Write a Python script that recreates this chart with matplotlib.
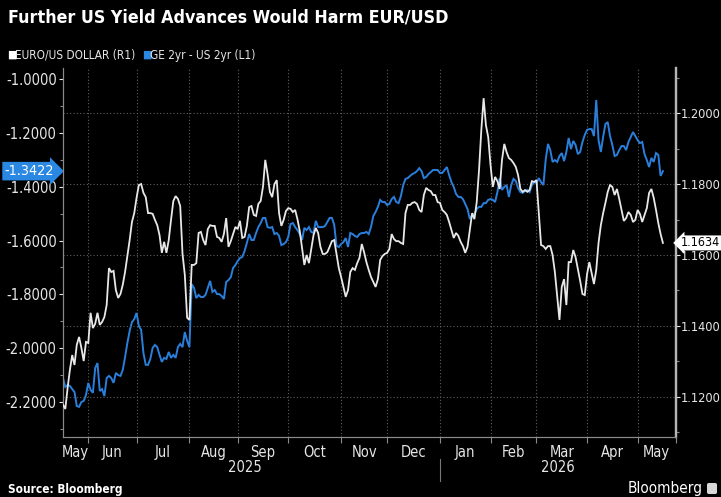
import numpy as np
import pandas as pd
import matplotlib
matplotlib.use("Agg")
import matplotlib.pyplot as plt
from matplotlib import font_manager
import matplotlib.transforms as mtransforms
from matplotlib.patches import FancyBboxPatch

# ---------------- data ----------------
start_date = "2025-05-16"   # first business day shown

eurusd = [
    1.1178, 1.1166, 1.1225, 1.1276, 1.1318, 1.1290, 1.1347, 1.1369, 1.1338, 1.1301,
    1.1355, 1.1352, 1.1437, 1.1394, 1.1406, 1.1437, 1.1403, 1.1411, 1.1425, 1.1459,
    1.1563, 1.1552, 1.1555, 1.1501, 1.1479, 1.1490, 1.1516, 1.1552, 1.1597, 1.1642,
    1.1693, 1.1718, 1.1761, 1.1797, 1.1800, 1.1775, 1.1763, 1.1718, 1.1718, 1.1716,
    1.1699, 1.1684, 1.1656, 1.1606, 1.1637, 1.1606, 1.1642, 1.1699, 1.1752, 1.1766,
    1.1758, 1.1738, 1.1603, 1.1544, 1.1423, 1.1417, 1.1572, 1.1572, 1.1577, 1.1662,
    1.1665, 1.1642, 1.1628, 1.1673, 1.1684, 1.1682, 1.1682, 1.1651, 1.1648, 1.1637,
    1.1659, 1.1704, 1.1623, 1.1639, 1.1659, 1.1679, 1.1673, 1.1696, 1.1648, 1.1651,
    1.1682, 1.1735, 1.1738, 1.1713, 1.1710, 1.1744, 1.1752, 1.1792, 1.1868, 1.1828,
    1.1778, 1.1763, 1.1800, 1.1811, 1.1718, 1.1682, 1.1699, 1.1724, 1.1732, 1.1730,
    1.1721, 1.1727, 1.1701, 1.1668, 1.1620, 1.1572, 1.1600, 1.1577, 1.1617, 1.1656,
    1.1676, 1.1662, 1.1623, 1.1603, 1.1603, 1.1608, 1.1623, 1.1639, 1.1642, 1.1603,
    1.1563, 1.1538, 1.1510, 1.1482, 1.1501, 1.1552, 1.1563, 1.1558, 1.1577, 1.1592,
    1.1631, 1.1608, 1.1580, 1.1558, 1.1538, 1.1524, 1.1510, 1.1532, 1.1586, 1.1597,
    1.1603, 1.1606, 1.1617, 1.1659, 1.1645, 1.1639, 1.1639, 1.1634, 1.1631, 1.1718,
    1.1741, 1.1741, 1.1747, 1.1749, 1.1744, 1.1727, 1.1721, 1.1769, 1.1789, 1.1783,
    1.1780, 1.1769, 1.1769, 1.1749, 1.1747, 1.1727, 1.1721, 1.1713, 1.1693, 1.1670,
    1.1648, 1.1662, 1.1654, 1.1637, 1.1625, 1.1606, 1.1623, 1.1670, 1.1718, 1.1701,
    1.1749, 1.1839, 1.1952, 1.2042, 1.1966, 1.1932, 1.1854, 1.1792, 1.1820, 1.1808,
    1.1786, 1.1868, 1.1913, 1.1890, 1.1873, 1.1868, 1.1859, 1.1848, 1.1825, 1.1786,
    1.1778, 1.1783, 1.1778, 1.1783, 1.1808, 1.1806, 1.1811, 1.1718, 1.1628, 1.1625,
    1.1617, 1.1625, 1.1625, 1.1600, 1.1552, 1.1484, 1.1417, 1.1510, 1.1532, 1.1459,
    1.1580, 1.1580, 1.1614, 1.1594, 1.1561, 1.1527, 1.1490, 1.1487, 1.1546, 1.1580,
    1.1549, 1.1518, 1.1558, 1.1634, 1.1684, 1.1718, 1.1747, 1.1778, 1.1797, 1.1792,
    1.1769, 1.1786, 1.1758, 1.1727, 1.1696, 1.1704, 1.1721, 1.1713, 1.1693, 1.1699,
    1.1727, 1.1716, 1.1693, 1.1713, 1.1732, 1.1775, 1.1786, 1.1761, 1.1727, 1.1690,
    1.1659, 1.1634,
]

spread_2y = [
    -2.111, -2.144, -2.137, -2.140, -2.152, -2.163, -2.215, -2.218, -2.200, -2.196,
    -2.174, -2.129, -2.155, -2.166, -2.074, -2.055, -2.159, -2.152, -2.178, -2.111,
    -2.103, -2.111, -2.129, -2.092, -2.100, -2.103, -2.081, -2.033, -1.981, -1.936,
    -1.903, -1.892, -1.869, -1.918, -1.932, -2.018, -2.062, -2.062, -2.040, -1.999,
    -1.988, -1.996, -2.025, -2.051, -2.036, -2.040, -2.014, -2.036, -2.025, -2.036,
    -1.996, -1.984, -1.996, -1.940, -1.973, -1.996, -1.762, -1.776, -1.814, -1.802,
    -1.810, -1.810, -1.802, -1.776, -1.750, -1.791, -1.784, -1.799, -1.799, -1.806,
    -1.817, -1.754, -1.747, -1.736, -1.702, -1.691, -1.676, -1.665, -1.661, -1.639,
    -1.609, -1.576, -1.598, -1.598, -1.572, -1.550, -1.535, -1.516, -1.516, -1.550,
    -1.553, -1.550, -1.576, -1.572, -1.583, -1.617, -1.613, -1.606, -1.587, -1.539,
    -1.535, -1.550, -1.561, -1.576, -1.598, -1.553, -1.561, -1.550, -1.568, -1.572,
    -1.527, -1.550, -1.550, -1.550, -1.546, -1.531, -1.516, -1.516, -1.542, -1.620,
    -1.624, -1.613, -1.606, -1.591, -1.624, -1.572, -1.576, -1.583, -1.587, -1.576,
    -1.572, -1.572, -1.568, -1.576, -1.550, -1.509, -1.494, -1.475, -1.449, -1.457,
    -1.457, -1.468, -1.464, -1.446, -1.438, -1.457, -1.461, -1.435, -1.394, -1.371,
    -1.368, -1.360, -1.353, -1.349, -1.342, -1.331, -1.342, -1.368, -1.364, -1.353,
    -1.346, -1.338, -1.338, -1.338, -1.349, -1.349, -1.338, -1.327, -1.357, -1.383,
    -1.401, -1.427, -1.438, -1.438, -1.446, -1.464, -1.483, -1.520, -1.505, -1.501,
    -1.483, -1.475, -1.475, -1.461, -1.461, -1.449, -1.446, -1.449, -1.457, -1.420,
    -1.368, -1.412, -1.401, -1.394, -1.438, -1.394, -1.371, -1.379, -1.405, -1.420,
    -1.423, -1.416, -1.412, -1.420, -1.394, -1.383, -1.386, -1.368, -1.383, -1.394,
    -1.301, -1.241, -1.264, -1.308, -1.301, -1.308, -1.286, -1.275, -1.305, -1.271,
    -1.219, -1.260, -1.230, -1.245, -1.279, -1.271, -1.234, -1.208, -1.189, -1.186,
    -1.186, -1.212, -1.078, -1.227, -1.271, -1.215, -1.167, -1.160, -1.212, -1.245,
    -1.286, -1.282, -1.264, -1.249, -1.249, -1.264, -1.234, -1.215, -1.197, -1.212,
    -1.227, -1.238, -1.234, -1.279, -1.301, -1.327, -1.293, -1.308, -1.275, -1.282,
    -1.360, -1.3422,
]

month_labels = ["May", "Jun", "Jul", "Aug", "Sep", "Oct", "Nov", "Dec",
                "Jan", "Feb", "Mar", "Apr", "May"]
year_labels = ["2025", "2026"]
left_ticks = [-1.0, -1.2, -1.4, -1.6, -1.8, -2.0, -2.2]
right_ticks = [1.12, 1.14, 1.16, 1.18, 1.20]
legend_labels = ["EURO/US DOLLAR (R1)", "GE 2yr - US 2yr (L1)"]
title = "Further US Yield Advances Would Harm EUR/USD"

# ---------------- fonts ----------------
plt.rcParams["axes.unicode_minus"] = False
ttf = font_manager.fontManager.ttflist
names = {f.name for f in ttf}
if "Liberation Sans Narrow" in names:
    FAM, STRETCH = "Liberation Sans Narrow", "normal"
elif any(f.name == "DejaVu Sans" and str(f.stretch) == "condensed" for f in ttf):
    FAM, STRETCH = "DejaVu Sans", "condensed"
else:
    FAM, STRETCH = "Liberation Sans", "normal"
plt.rcParams["font.family"] = [FAM, "DejaVu Sans"]
plt.rcParams["font.stretch"] = STRETCH

# ---------------- colours ----------------
BG = "black"
WHITE_LINE = "#e8e8e8"
BLUE_LINE = "#2a7fdc"
BLUE_BOX = "#2a88e3"
GRID = "#5e5e5e"
SPINE = "#8a8a8a"
TXT = "#e6e6e6"

# ---------------- figure ----------------
W, H = 721, 497
fig = plt.figure(figsize=(W / 100, H / 100), dpi=100, facecolor=BG)
ax_l = fig.add_axes([63 / W, 1 - 437 / H, (676 - 63) / W, (437 - 68) / H])
ax_l.set_facecolor(BG)
ax_r = ax_l.twinx()

dates = pd.bdate_range(start_date, periods=len(eurusd))
x = np.arange(len(dates))
x_end = len(dates) - 1 + 5.7

ax_l.plot(x, spread_2y, color=BLUE_LINE, lw=1.4, solid_joinstyle="miter", zorder=3)
ax_r.plot(x, eurusd, color=WHITE_LINE, lw=1.3, solid_joinstyle="miter", zorder=3)

ax_l.set_xlim(0, x_end)
ax_l.set_ylim(-2.330, -0.959)
ax_r.set_ylim(1.1087, 1.2127)

# month boundaries
month_starts = [i for i in range(1, len(dates)) if dates[i].month != dates[i - 1].month]
bounds = [0] + month_starts + [x_end]
centers = [(a + b) / 2 for a, b in zip(bounds[:-1], bounds[1:])]
year_start = [i for i in range(1, len(dates)) if dates[i].year != dates[i - 1].year][0]

# x axis
ax_l.set_xticks(month_starts + [x_end])
ax_l.set_xticklabels([])
ax_l.set_xticks(centers, minor=True)
ax_l.set_xticklabels(month_labels, minor=True)
ax_l.tick_params(axis="x", which="major", length=4, width=0.8, color=SPINE, direction="out")
ax_l.tick_params(axis="x", which="minor", length=0, pad=6, labelsize=10.5, labelcolor=TXT)
for xm in month_starts:
    ax_l.axvline(xm, color=GRID, lw=0.8, ls=(0, (1, 2)), zorder=1)

# year labels
trans = mtransforms.blended_transform_factory(ax_l.transData, ax_l.transAxes)
yc = [(0 + year_start) / 2 - 3, (year_start + x_end) / 2]
for xc, lab in zip(yc, year_labels):
    ax_l.text(xc, -0.082, lab, transform=trans, ha="center", va="center",
              color=TXT, fontsize=10.5)
ax_l.plot([year_start, year_start], [-0.06, -0.12], transform=trans,
          color="#777777", lw=0.8, clip_on=False)

# left axis
ax_l.set_yticks(left_ticks)
ax_l.set_yticklabels([f"{v:.4f}" for v in left_ticks])
ax_l.set_yticks(np.arange(-2.3, -0.95, 0.2), minor=True)
ax_l.tick_params(axis="y", which="major", length=3, width=0.8, color=TXT,
                 labelcolor=TXT, labelsize=10.5, pad=1.5)
ax_l.tick_params(axis="y", which="minor", length=2, width=0.8, color=SPINE)

# right axis
ax_r.set_yticks(right_ticks)
ax_r.set_yticklabels([f"{v:.4f}" for v in right_ticks])
ax_r.set_yticks(np.arange(1.11, 1.215, 0.02), minor=True)
ax_r.tick_params(axis="y", which="major", length=3, width=0.8, color=TXT,
                 labelcolor=TXT, labelsize=9.2, pad=0.6)
ax_r.tick_params(axis="y", which="minor", length=2, width=0.8, color=SPINE)
for yv in right_ticks:
    ax_r.axhline(yv, color=GRID, lw=0.8, ls=(0, (1, 2)), zorder=1)

for a in (ax_l, ax_r):
    a.spines["top"].set_visible(False)
    a.spines["left"].set_color(SPINE)
    a.spines["bottom"].set_color(SPINE)
    a.spines["right"].set_color("#b5b5b5")
    a.spines["right"].set_linewidth(1.6)

# last-value labels
ax_l.annotate(f"{spread_2y[-1]:.4f}", xy=(0, spread_2y[-1]),
              xycoords=mtransforms.blended_transform_factory(ax_l.transAxes, ax_l.transData),
              xytext=(-6.5, 0), textcoords="offset points", ha="right", va="center",
              color="white", fontsize=10.3,
              bbox=dict(boxstyle="rarrow,pad=0.16", fc=BLUE_BOX, ec="none"),
              annotation_clip=False, zorder=10)
ax_r.annotate(f"{eurusd[-1]:.4f}", xy=(1, eurusd[-1]),
              xycoords=mtransforms.blended_transform_factory(ax_r.transAxes, ax_r.transData),
              xytext=(3.6, 0), textcoords="offset points", ha="left", va="center",
              color="black", fontsize=9.0,
              bbox=dict(boxstyle="larrow,pad=0.08", fc="white", ec="none"),
              annotation_clip=False, zorder=10)

# title, legend, footer
fig.text(8 / W, 1 - 18 / H, title, ha="left", va="center", color="white",
         fontsize=12.8, fontweight="bold")
fig.text(7 / W, 1 - 55 / H, "\u25A0", ha="left", va="center", color="white",
         fontsize=8, family="DejaVu Sans")
fig.text(15 / W, 1 - 55 / H, legend_labels[0], ha="left", va="center", color=TXT,
         fontsize=8.5)
fig.text(142 / W, 1 - 55 / H, "\u25A0", ha="left", va="center", color=BLUE_BOX,
         fontsize=8, family="DejaVu Sans")
fig.text(150 / W, 1 - 55 / H, legend_labels[1], ha="left", va="center", color=TXT,
         fontsize=8.5)
fig.text(8 / W, 1 - 490 / H, "Source: Bloomberg", ha="left", va="center",
         color="white", fontsize=8.5, fontweight="bold")
fig.text(703 / W, 1 - 488 / H, "Bloomberg", ha="right", va="center",
         color="white", fontsize=11)
fig.patches.append(FancyBboxPatch((707 / W, 1 - 494 / H), 10 / W, 11 / H,
                                  boxstyle="round,pad=0,rounding_size=0.003",
                                  transform=fig.transFigure, fc="#d8d8d8", ec="none"))

fig.savefig("out.png", dpi=100, facecolor=BG)
